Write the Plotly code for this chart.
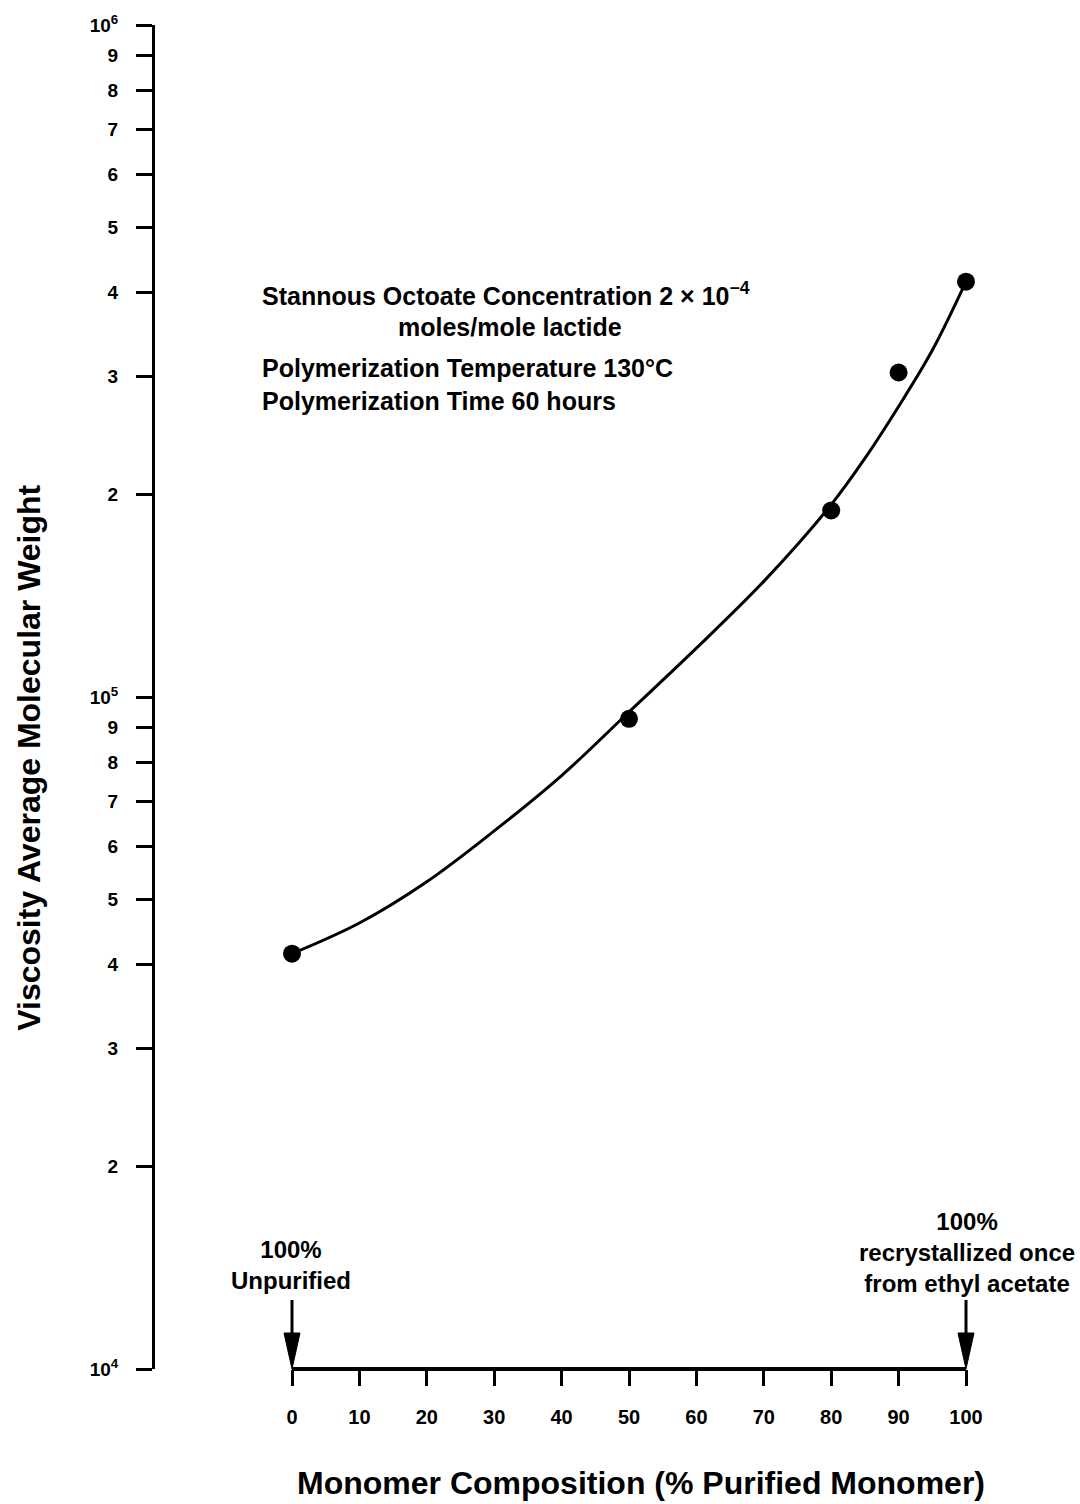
import plotly.graph_objects as go

# ---------------- data ----------------
composition = [0, 50, 80, 90, 100]                      # % purified monomer
mol_weight = [41500, 92800, 189500, 304000, 415000]     # viscosity avg MW

# fitted curve
curve_x = [0, 10, 20, 30, 40, 50, 60, 70, 80, 85, 90, 95, 100]
curve_y = [41500, 46100, 53100, 63200, 76400, 95000, 118200, 148600,
           193300, 226500, 270600, 328000, 415000]

x_ticks = [0, 10, 20, 30, 40, 50, 60, 70, 80, 90, 100]
y_ticks = [1e4, 2e4, 3e4, 4e4, 5e4, 6e4, 7e4, 8e4, 9e4,
           1e5, 2e5, 3e5, 4e5, 5e5, 6e5, 7e5, 8e5, 9e5, 1e6]
y_ticktext = ["10<sup>4</sup>", "2", "3", "4", "5", "6", "7", "8", "9",
              "10<sup>5</sup>", "2", "3", "4", "5", "6", "7", "8", "9",
              "10<sup>6</sup>"]

# ---------------- layout geometry ----------------
W, H = 1080, 1504
L, R, T, B = 155, 1000, 19, 1369
X0_PX, X100_PX = 292, 966
ppu = (X100_PX - X0_PX) / 100.0
x_range = [(L - X0_PX) / ppu, (R - X0_PX) / ppu]


def px_x(px):
    return (px - L) / (R - L)


def px_y(py):
    return (B - py) / (B - T)


FONT = "Liberation Sans"
black = "#000000"

fig = go.Figure()

fig.add_trace(go.Scatter(
    x=curve_x, y=curve_y, mode="lines",
    line=dict(color=black, width=3, shape="spline", smoothing=1.0),
    hoverinfo="skip", showlegend=False))

fig.add_trace(go.Scatter(
    x=composition, y=mol_weight, mode="markers",
    marker=dict(color=black, size=18, symbol="circle"),
    showlegend=False))

# x-axis baseline from first to last tick
fig.add_shape(type="line", xref="x", yref="paper",
              x0=x_ticks[0], x1=x_ticks[-1], y0=0, y1=0,
              line=dict(color=black, width=4))

# arrows at both ends of the composition scale
for xv in (x_ticks[0], x_ticks[-1]):
    fig.add_shape(type="line", xref="x", yref="paper",
                  xsizemode="pixel", ysizemode="pixel",
                  xanchor=xv, yanchor=0,
                  x0=0, x1=0, y0=30, y1=69,
                  line=dict(color=black, width=3))
    fig.add_shape(type="path", xref="x", yref="paper",
                  xsizemode="pixel", ysizemode="pixel",
                  xanchor=xv, yanchor=0,
                  path="M-8,36 L8,36 L0,0 Z",
                  fillcolor=black, line=dict(color=black, width=1))

ann_font = dict(family=FONT, size=25, color=black, weight="bold")
side_font = dict(family=FONT, size=24, color=black, weight="bold")

annotations = [
    dict(text="Stannous Octoate Concentration 2 \u00d7 10<sup>\u22124</sup>",
         x=px_x(260), y=px_y(289), xanchor="left", yanchor="middle", font=ann_font),
    dict(text="moles/mole lactide",
         x=px_x(510), y=px_y(322), xanchor="center", yanchor="middle", font=ann_font),
    dict(text="Polymerization Temperature 130\u00b0C",
         x=px_x(260), y=px_y(364), xanchor="left", yanchor="middle", font=ann_font),
    dict(text="Polymerization Time 60 hours",
         x=px_x(260), y=px_y(397), xanchor="left", yanchor="middle", font=ann_font),
    dict(text="100%<br>Unpurified",
         x=px_x(291), y=px_y(1265), xanchor="center", yanchor="middle", font=side_font),
    dict(text="100%<br>recrystallized once<br>from ethyl acetate",
         x=px_x(967), y=px_y(1252), xanchor="center", yanchor="middle", font=side_font),
]
for a in annotations:
    fig.add_annotation(xref="paper", yref="paper", showarrow=False, **a)

# axis titles
fig.add_annotation(xref="paper", yref="paper", showarrow=False,
                   text="Monomer Composition (% Purified Monomer)",
                   x=px_x(641), y=px_y(1484), xanchor="center", yanchor="middle",
                   font=dict(family=FONT, size=32, color=black, weight="bold"))
fig.add_annotation(xref="paper", yref="paper", showarrow=False,
                   text="Viscosity Average Molecular Weight", textangle=-90,
                   x=px_x(29), y=px_y(755), xanchor="center", yanchor="middle",
                   font=dict(family=FONT, size=32, color=black, weight="bold"))

fig.update_layout(
    width=W, height=H,
    margin=dict(l=L, r=W - R, t=T, b=H - B, pad=0),
    paper_bgcolor="white", plot_bgcolor="white",
    showlegend=False,
    xaxis=dict(range=x_range, tickvals=x_ticks, ticktext=[str(v) for v in x_ticks],
               ticks="outside", ticklen=16, tickwidth=2.5, tickcolor=black,
               showline=False, showgrid=False, zeroline=False,
               tickfont=dict(family=FONT, size=20, color=black, weight="bold"),
               ticklabelstandoff=14),
    yaxis=dict(type="log", range=[4, 6], tickvals=y_ticks, ticktext=y_ticktext,
               ticks="outside", ticklen=16, tickwidth=2.5, tickcolor=black,
               showline=True, linecolor=black, linewidth=3,
               showgrid=False, zeroline=False,
               tickfont=dict(family=FONT, size=19, color=black, weight="bold"),
               ticklabelstandoff=14),
)

fig.write_html("out.html")
